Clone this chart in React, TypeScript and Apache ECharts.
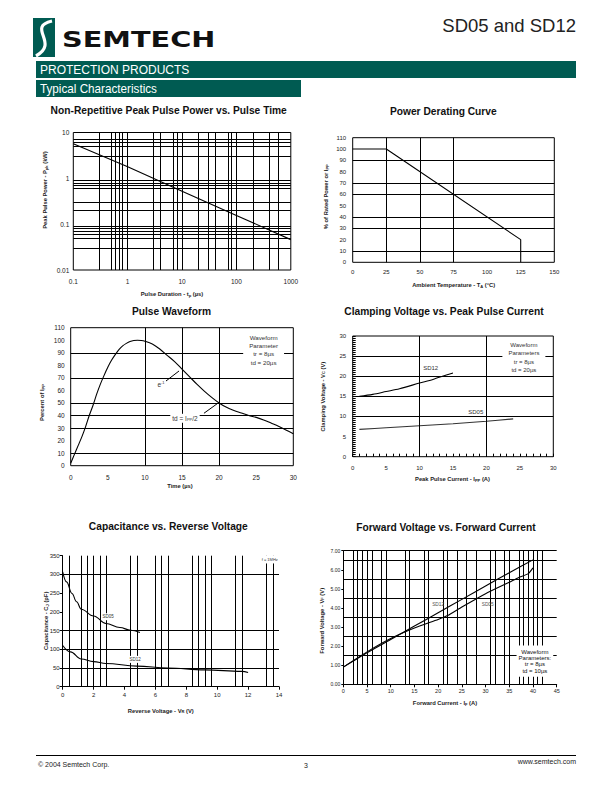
import React, { useEffect, useRef } from "react";
import * as echarts from "echarts";

const SANS = '"Liberation Sans", Arial, sans-serif';
const TXT = "#222";
const GREEN = "#005b52";

// ---------- Chart 1: Non-Repetitive Peak Pulse Power vs. Pulse Time
const ppDuration = [0.1, 1, 10, 100, 1000];
const ppPower = [5.7, 1.8, 0.52, 0.155, 0.046];
const ppXTickLabels = ["0.1", "1", "10", "100", "1000"];
const ppYTickLabels = ["0.01", "0.1", "1", "10"];
const ppVGrid = [0.3, 0.5, 0.6, 0.7, 0.8, 1, 3, 4, 7, 8, 10, 20, 30, 40, 70, 80, 100, 200, 400, 600];
const ppHGrid = [7, 6, 5, 3, 0.9, 0.8, 0.7, 0.6, 0.3, 0.2, 0.09, 0.08, 0.07, 0.06, 0.05, 0.03];

// ---------- Chart 2: Power Derating Curve
const derTemp = [0, 25, 125, 125];
const derPct = [100, 100, 20, 0];
const derVGrid = [25, 50, 75];
const derHGrid = [90, 70, 60, 40, 30, 10];

// ---------- Chart 3: Pulse Waveform
const pwTime = [0, 0.5, 1, 1.5, 2, 2.5, 3, 3.5, 4, 4.5, 5, 5.5, 6, 6.5, 7, 7.5, 8, 8.5, 9, 9.5, 10,
  11, 12, 13, 14, 15, 16, 17, 18, 19, 20, 21, 22, 23, 24, 25, 26, 27, 28, 29, 30];
const pwPercent = [2, 9, 16, 23, 31, 40, 48, 57, 65, 72, 78.5, 84, 88.5, 92.5, 95.5, 97.5, 99, 99.8, 100, 99.8, 99.2,
  97, 93, 88, 83, 77, 71, 65, 59.5, 54.5, 50, 46.5, 44, 42, 40, 38.5, 36.5, 34, 31.5, 28.5, 25.5];
const pwVGrid = [10, 15, 20];
const pwHGrid = [90, 70, 50, 40, 30, 10];

// ---------- Chart 4: Clamping Voltage vs. Peak Pulse Current
const cvCurrent12 = [1, 3, 5, 7, 10, 12, 14, 15];
const cvVolt12 = [15.0, 15.5, 16.2, 16.9, 18.3, 19.2, 20.3, 20.8];
const cvCurrent05 = [1, 5, 10, 15, 20, 24];
const cvVolt05 = [6.8, 7.2, 7.7, 8.2, 8.8, 9.4];
const cvVGrid = [10, 20];
const cvHGrid = [25, 20, 15, 10];

// ---------- Chart 5: Capacitance vs. Reverse Voltage
const capVolt05 = [0, 0.25, 0.6, 0.9, 1.2, 2, 2.8, 3.7, 4.4, 5];
const capPf05 = [307, 280, 249, 227, 207, 189, 169, 158, 151, 145];
const capVolt12 = [0, 0.5, 1.2, 2, 2.8, 4.8, 6.8, 9.2, 11.6, 12];
const capPf12 = [110, 93, 74, 67, 62, 55, 50, 45, 41, 38];
const capVGrid = [0.4, 1.2, 1.6, 2, 2.4, 2.8, 4.4, 4.8, 6, 6.4, 6.8, 8.4, 8.8, 9.2, 9.6, 11.2, 11.6, 13.2, 13.6];
const capHGrid = [300, 150, 100, 50];

// ---------- Chart 6: Forward Voltage vs. Forward Current
const fvCurrent12 = [0, 5, 10, 15, 20, 25, 30, 35, 40];
const fvVolt12 = [0.9, 1.65, 2.35, 3.05, 3.75, 4.45, 5.15, 5.85, 6.52];
const fvCurrent05 = [0, 5, 10, 15, 20, 22, 25, 30, 35, 37, 39, 40];
const fvVolt05 = [0.9, 1.7, 2.4, 2.95, 3.4, 3.6, 4.05, 4.75, 5.35, 5.6, 5.8, 6.1];
const fvVGrid = [2, 3, 4, 5, 6, 8, 9, 13, 14, 17, 18, 21, 22, 24, 26, 28, 31, 32, 34, 35, 37, 38, 39, 40, 41, 42];
const fvHGrid = [7, 6.5, 5.5, 4.5, 3.5, 2.5, 1.5];

const pts = (xs: number[], ys: number[]) => xs.map((x, i) => [x, ys[i]]);

const fmtLog = (labels: string[]) => (v: number) => {
  const l = Math.round(Math.log10(v));
  const f = labels.find((s) => Math.round(Math.log10(parseFloat(s))) === l);
  return f ?? "";
};

const lbl = (size: number, margin: number, extra: any = {}) => ({
  fontSize: size, color: TXT, fontFamily: SANS, margin, ...extra,
});

const gridML = (xs: number[], ys: number[]) => ({
  silent: true,
  symbol: ["none", "none"],
  label: { show: false },
  emphasis: { disabled: true },
  lineStyle: { color: "#000", width: 1, type: "solid" },
  data: [...xs.map((v) => ({ xAxis: v })), ...ys.map((v) => ({ yAxis: v }))],
});

const helper = (i: number, xs: number[], ys: number[]) => ({
  type: "line", xAxisIndex: i, yAxisIndex: i, data: [], z: 1, silent: true,
  markLine: gridML(xs, ys),
});

const curve = (i: number, data: any[], extra: any = {}) => ({
  type: "line", xAxisIndex: i, yAxisIndex: i, data, symbol: "none", showSymbol: false,
  lineStyle: { color: "#000", width: 1.1 }, z: 3, silent: true, ...extra,
});

const tok = (size: number, extra: any = {}) => ({
  fontSize: size, color: "#333", fontFamily: SANS, textBorderWidth: 0, textShadowBlur: 0, ...extra,
});

const note = (coord: number[], text: string, opt: any = {}) => ({
  coord,
  symbol: "circle",
  symbolSize: 1,
  itemStyle: { color: "rgba(0,0,0,0)" },
  label: {
    show: true, position: "inside", formatter: text, fontSize: 6, color: "#333",
    fontFamily: SANS, align: "center", verticalAlign: "middle",
    textBorderWidth: 0, textBorderColor: "transparent", ...opt,
  },
});

const marks = (items: any[]) => ({ silent: true, animation: false, data: items });

const gtext = (x: number, y: number, text: string, o: any = {}) => ({
  type: "text", x, y, z: 100, silent: true, rotation: o.rotation || 0,
  style: {
    text, fill: o.fill || TXT, fontSize: o.fontSize || 6, fontWeight: o.fontWeight || "normal",
    fontFamily: o.fontFamily || SANS,
    align: o.align || "center", textAlign: o.align || "center",
    verticalAlign: "middle", textVerticalAlign: "middle",
    rich: o.rich,
  },
  scaleX: o.scaleX || 1,
});

const subRich = (size: number) => ({
  s: { fontSize: size * 0.7, fontWeight: "bold", fontFamily: SANS, fill: TXT, color: TXT, padding: [size * 0.4, 0, 0, 0] },
});

const title = (x: number, y: number, text: string) =>
  gtext(x, y, text, { fontSize: 11.5, fontWeight: "bold", fontFamily: SANS, fill: "#111", scaleX: 0.89 });

const axName = (x: number, y: number, text: string, rot = false, size = 5.8) =>
  gtext(x, y, text, { fontSize: size, fontWeight: "bold", rotation: rot ? Math.PI / 2 : 0, rich: subRich(size) });

export default function App() {
  const ref = useRef<HTMLDivElement>(null);
  useEffect(() => {
    if (!ref.current) return;
    const chart = echarts.init(ref.current, null, { renderer: "svg" });
    const box = { show: true, borderColor: "#000", borderWidth: 1 };
    const noLine = { show: false };
    const option: any = {
      animation: false,
      backgroundColor: "#fff",
      grid: [
        { left: 73.3, top: 132.5, width: 217.5, height: 137.5, ...box },
        { left: 352.7, top: 137.7, width: 201.6, height: 124.6, ...box },
        { left: 70.7, top: 327.7, width: 222.6, height: 138, ...box },
        { left: 352.7, top: 336, width: 200.6, height: 120.7, ...box },
        { left: 62.7, top: 555.7, width: 216.3, height: 131, show: false },
        { left: 343.3, top: 550.7, width: 213.4, height: 133.6, show: false },
      ],
      xAxis: [
        { gridIndex: 0, type: "log", logBase: 10, min: 0.1, max: 1000, axisLine: noLine, axisTick: noLine, splitLine: noLine,
          axisLabel: lbl(6.5, 8, { formatter: fmtLog(ppXTickLabels) }) },
        { gridIndex: 1, type: "value", min: 0, max: 150, interval: 25, axisLine: noLine, axisTick: noLine, splitLine: noLine,
          axisLabel: lbl(6, 7) },
        { gridIndex: 2, type: "value", min: 0, max: 30, interval: 5, axisLine: noLine, axisTick: noLine, splitLine: noLine,
          axisLabel: lbl(6.5, 8) },
        { gridIndex: 3, type: "value", min: 0, max: 30, interval: 5, axisLine: noLine, splitLine: noLine,
          axisTick: { show: true, inside: true, length: 3, lineStyle: { color: "#000" } },
          minorTick: { show: true, splitNumber: 5, length: 3, lineStyle: { color: "#000" } },
          axisLabel: lbl(6, 8) },
        { gridIndex: 4, type: "value", min: 0, max: 14, interval: 2, splitLine: noLine,
          axisLine: { show: true, lineStyle: { color: "#000", width: 1 } },
          axisTick: { show: true, length: 3, lineStyle: { color: "#000" } },
          axisLabel: lbl(6, 5) },
        { gridIndex: 5, type: "value", min: 0, max: 45, interval: 5, splitLine: noLine,
          axisLine: { show: true, lineStyle: { color: "#000", width: 1 } },
          axisTick: { show: true, length: 3, lineStyle: { color: "#000" } },
          axisLabel: lbl(5.5, 4) },
      ],
      yAxis: [
        { gridIndex: 0, type: "log", logBase: 10, min: 0.01, max: 10, axisLine: noLine, axisTick: noLine, splitLine: noLine,
          axisLabel: lbl(6.5, 4, { formatter: fmtLog(ppYTickLabels) }) },
        { gridIndex: 1, type: "value", min: 0, max: 110, interval: 10, axisLine: noLine, axisTick: noLine, splitLine: noLine,
          axisLabel: lbl(6, 6.5) },
        { gridIndex: 2, type: "value", min: 0, max: 110, interval: 10, axisLine: noLine, axisTick: noLine, splitLine: noLine,
          axisLabel: lbl(6.5, 6) },
        { gridIndex: 3, type: "value", min: 0, max: 30, interval: 5, axisLine: noLine, splitLine: noLine,
          axisTick: { show: true, inside: true, length: 3, lineStyle: { color: "#000" } },
          minorTick: { show: true, splitNumber: 10, length: 3, lineStyle: { color: "#000" } },
          axisLabel: lbl(6, 6.5) },
        { gridIndex: 4, type: "value", min: 0, max: 350, interval: 50, splitLine: noLine,
          axisLine: { show: true, lineStyle: { color: "#000", width: 1 } },
          axisTick: { show: true, length: 3, lineStyle: { color: "#000" } },
          axisLabel: lbl(6, 3) },
        { gridIndex: 5, type: "value", min: 0, max: 7, interval: 1, splitLine: noLine,
          axisLine: { show: true, lineStyle: { color: "#000", width: 1 } },
          axisTick: { show: true, length: 2, lineStyle: { color: "#000" } },
          axisLabel: lbl(5, 3, { formatter: (v: number) => v.toFixed(2) }) },
      ],
      series: [
        helper(0, ppVGrid, ppHGrid),
        curve(0, pts(ppDuration, ppPower)),

        helper(1, derVGrid, derHGrid),
        curve(1, pts(derTemp, derPct)),

        helper(2, pwVGrid, pwHGrid),
        curve(2, pts(pwTime, pwPercent), {
          smooth: 0.3,
          markLine: {
            silent: true, symbol: ["none", "arrow"], symbolSize: [0, 5], label: { show: false },
            lineStyle: { color: "#000", width: 1, type: "solid" },
            data: [
              [{ coord: [12.84, 67.5] }, { coord: [14.6, 75.5] }],
              [{ coord: [17.96, 41.8] }, { coord: [19.81, 49.7] }],
            ],
          },
          markPoint: marks([
            note([26, 92.5], "Waveform\nParameter\ntr = 8µs\ntd = 20µs",
              { backgroundColor: "#fff", lineHeight: 8.3, padding: [1, 6], fontSize: 6.2 }),
            note([12.17, 64.5], "{m|e}{sup|-1}", {
              rich: {
                m: tok(6.5),
                sup: tok(4, { verticalAlign: "top", padding: [0, 0, 5, 0] }),
              },
            }),
            note([15.4, 37.8], "{m|td = I}{s|PP}{m|/2}", {
              backgroundColor: "#fff", padding: [1, 2],
              rich: {
                m: tok(6.5),
                s: tok(4, { padding: [3, 0, 0, 0] }),
              },
            }),
          ]),
        }),

        helper(3, cvVGrid, cvHGrid),
        curve(3, pts(cvCurrent12, cvVolt12), {
          smooth: 0.3,
          markPoint: marks([
            note([25.6, 24.7], "Waveform\nParameters\ntr = 8µs\ntd = 20µs",
              { backgroundColor: "#fff", lineHeight: 8.5, padding: [1, 6], fontSize: 6 }),
            note([11.66, 22], "SD12", { fontSize: 6 }),
            note([18.4, 11.2], "SD05", { fontSize: 6 }),
          ]),
        }),
        curve(3, pts(cvCurrent05, cvVolt05), { smooth: 0.3, lineStyle: { color: "#333", width: 1.1 } }),

        helper(4, capVGrid, capHGrid),
        curve(4, pts(capVolt05, capPf05), {
          smooth: 0.4, smoothMonotone: "x",
          markPoint: marks([
            note([2.94, 187], "SD05", { fontSize: 4.5, backgroundColor: "#fff", padding: [1, 1] }),
            note([4.68, 73], "SD12", { fontSize: 4.5, backgroundColor: "#fff", padding: [1, 1] }),
            note([13.4, 340], "f = 1MHz", { fontSize: 4, backgroundColor: "#fff", padding: [2, 1] }),
          ]),
        }),
        curve(4, pts(capVolt12, capPf12), { smooth: 0.4, smoothMonotone: "x" }),

        helper(5, fvVGrid, fvHGrid),
        curve(5, pts(fvCurrent12, fvVolt12), {
          smooth: 0.2,
          markPoint: marks([
            note([40.4, 1.21], "Waveform\nParameters:\ntr = 8µs\ntd = 10µs",
              { backgroundColor: "#fff", lineHeight: 6.3, padding: [3, 2], fontSize: 6, color: "#111" }),
            note([20.0, 4.2], "SD12", { fontSize: 4.8, color: "#555" }),
            note([30.45, 4.16], "SD05", { fontSize: 4.8, color: "#555" }),
          ]),
        }),
        curve(5, pts(fvCurrent05, fvVolt05), { smooth: 0.2 }),
      ],
      graphic: [
        // header
        { type: "rect", z: 100, shape: { x: 33, y: 18, width: 22, height: 39 }, style: { fill: GREEN } },
        { type: "bezierCurve", z: 101, shape: { x1: 52, y1: 21, cpx1: 26, cpy1: 27, cpx2: 60, cpy2: 43, x2: 36, y2: 56 },
          style: { stroke: "#fff", lineWidth: 3.2, fill: null } },
        gtext(62, 40, "SEMTECH", { fontSize: 21, fontWeight: "bold", fontFamily: '"DejaVu Sans", sans-serif', align: "left", scaleX: 1.37, fill: "#111" }),
        gtext(576, 25, "SD05 and SD12", { fontSize: 18.5, fontFamily: SANS, align: "right", fill: "#222" }),
        { type: "rect", z: 100, shape: { x: 36, y: 61, width: 540, height: 17 }, style: { fill: GREEN } },
        gtext(40, 69.8, "PROTECTION PRODUCTS", { fontSize: 12, fontFamily: SANS, align: "left", fill: "#fff" }),
        { type: "rect", z: 100, shape: { x: 36, y: 80, width: 265, height: 17 }, style: { fill: GREEN } },
        gtext(40, 88.8, "Typical Characteristics", { fontSize: 13, fontFamily: SANS, align: "left", fill: "#fff", scaleX: 0.9 }),

        // titles
        title(168.7, 110, "Non-Repetitive Peak Pulse Power vs. Pulse Time"),
        title(443.3, 110.5, "Power Derating Curve"),
        title(171.5, 311, "Pulse Waveform"),
        title(444, 310.5, "Clamping Voltage vs. Peak Pulse Current"),
        title(168.3, 526, "Capacitance vs. Reverse Voltage"),
        title(446, 526.5, "Forward Voltage vs. Forward Current"),

        // axis names
        axName(172, 294.3, "Pulse Duration - t{s|p} (µs)"),
        axName(45, 190, "Peak Pulse Power - P{s|pk} (kW)", true),
        axName(453.7, 285, "Ambient Temperature - T{s|A} (°C)"),
        axName(326, 196.7, "% of Rated Power or I{s|PP}", true),
        axName(180, 486, "Time (µs)"),
        axName(42.3, 402.5, "Percent of I{s|PP}", true),
        axName(452.5, 479, "Peak Pulse Current - I{s|PP} (A)"),
        axName(322.7, 396.7, "Clamping Voltage - V{s|C} (V)", true),
        axName(160.8, 710.5, "Reverse Voltage - V{s|R} (V)"),
        axName(46, 620.8, "Capacitance - C{s|J} (pF)", true),
        axName(445, 703.3, "Forward Current - I{s|F} (A)"),
        axName(321.7, 620.8, "Forward Voltage - V{s|F} (V)", true),

        // footer
        { type: "line", z: 100, shape: { x1: 36, y1: 755.5, x2: 576, y2: 755.5 }, style: { stroke: "#000", lineWidth: 1 } },
        gtext(38, 764.5, "© 2004 Semtech Corp.", { fontSize: 7, align: "left", fill: "#222" }),
        gtext(306, 765, "3", { fontSize: 7, fill: "#222" }),
        gtext(576, 761.5, "www.semtech.com", { fontSize: 7, align: "right", fill: "#222" }),
      ],
    };
    chart.setOption(option);
    return () => chart.dispose();
  }, []);
  return <div ref={ref} style={{ position: "absolute", left: 0, top: 0, width: 612, height: 792 }} />;
}
